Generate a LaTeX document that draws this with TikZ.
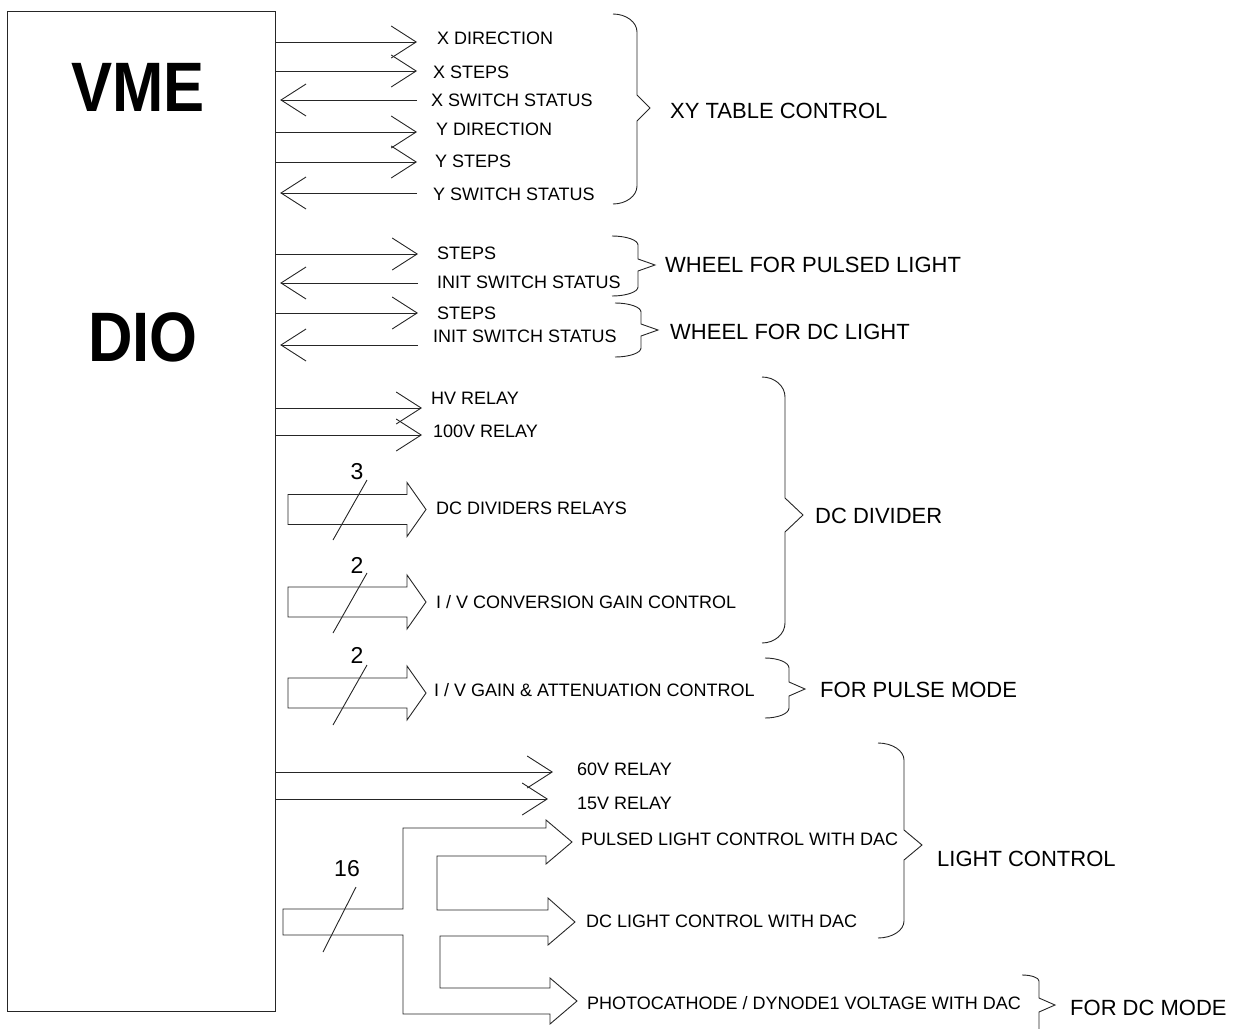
\documentclass[tikz,border=0pt]{standalone}
\usepackage{fontspec}
\setmainfont{Liberation Sans}
\usetikzlibrary{arrows.meta, positioning}

% right-hand group brace: hook x, spine x, tip x, top y, tip y, bottom y, tip half, hook height
\newcommand{\grpbrace}[8]{%
  \draw[brace] (#1,#4) .. controls ({#1+0.55*(#2-#1)},#4) and (#2,{#4+0.45*#8}) .. (#2,{#4+#8})
    -- (#2,{#5-#7}) -- (#3,#5) -- (#2,{#5+#7}) -- (#2,{#6-#8})
    .. controls (#2,{#6-0.45*#8}) and ({#1+0.55*(#2-#1)},#6) .. (#1,#6);}
% wide bus arrow, centre y
\newcommand{\busarrow}[1]{%
  \draw[bus] (288,{#1-15}) -- (407,{#1-15}) -- (407,{#1-27}) -- (426,#1)
    -- (407,{#1+27}) -- (407,{#1+15}) -- (288,{#1+15}) -- cycle;}

\begin{document}
\begin{tikzpicture}[x=1pt, y=-1pt,
  wire/.style={draw=black!85, line width=0.9pt},
  sigout/.style={wire, -{Straight Barb[length=25pt, width=32pt]}},
  sigin/.style={wire, -{Straight Barb[length=25pt, width=32pt]}, shorten >=4pt},
  brace/.style={wire},
  bus/.style={wire, line join=miter},
  sig/.style={font=\fontsize{18}{20}\selectfont, anchor=west, inner sep=0pt, text height=13pt, text depth=0pt},
  grp/.style={font=\fontsize{22}{24}\selectfont, anchor=west, inner sep=0pt, text height=16pt, text depth=0pt},
  busno/.style={font=\fontsize{23}{25}\selectfont, inner sep=0pt, text height=16pt, text depth=0pt},
  title/.style={font=\fontsize{70}{72}\selectfont\bfseries, inner sep=0pt, text height=50pt, text depth=0pt}]
  \useasboundingbox (0,0) rectangle (1234,1028);

  \node[draw=black!85, line width=1.2pt, anchor=north west, minimum width=268pt, minimum height=1000pt, inner sep=0pt] (vme) at (7,11) {};
  \node[title] (vmelbl) at (138,86) {\scalebox{0.88}[1]{VME}};
  \node[title] (diolbl) at (143,336) {\scalebox{0.88}[1]{DIO}};

  % XY table
  \coordinate (xdir) at (417,42);
  \coordinate (xstep) at (417,71);
  \coordinate (xsw) at (417,100);
  \coordinate (ydir) at (417,132);
  \coordinate (ystep) at (417,162);
  \coordinate (ysw) at (417,193);
  \draw[sigout] (vme.east |- xdir) -- (xdir);
  \draw[sigout] (vme.east |- xstep) -- (xstep);
  \draw[sigin] (xsw) -- (vme.east |- xsw);
  \draw[sigout] (vme.east |- ydir) -- (ydir);
  \draw[sigout] (vme.east |- ystep) -- (ystep);
  \draw[sigin] (ysw) -- (vme.east |- ysw);
  \node[sig] (xdirlbl) at (437,38) {X DIRECTION};
  \node[sig] (xsteplbl) at (433,72) {X STEPS};
  \node[sig] (xswlbl) at (431,100) {X SWITCH STATUS};
  \node[sig] (ydirlbl) at (436,129) {Y DIRECTION};
  \node[sig] (ysteplbl) at (435,161) {Y STEPS};
  \node[sig] (yswlbl) at (433,194) {Y SWITCH STATUS};
  \grpbrace{613}{637}{650}{14}{108}{204}{13}{18}
  \node[grp] (xygrp) at (670,110) {XY TABLE CONTROL};

  % filter wheels
  \coordinate (pstep) at (418,254);
  \coordinate (pinit) at (418,283);
  \coordinate (dstep) at (418,313);
  \coordinate (dinit) at (418,345);
  \draw[sigout] (vme.east |- pstep) -- (pstep);
  \draw[sigin] (pinit) -- (vme.east |- pinit);
  \draw[sigout] (vme.east |- dstep) -- (dstep);
  \draw[sigin] (dinit) -- (vme.east |- dinit);
  \node[sig] (psteplbl) at (437,253) {STEPS};
  \node[sig] (pinitlbl) at (437,282) {INIT SWITCH STATUS};
  \node[sig] (dsteplbl) at (437,313) {STEPS};
  \node[sig] (dinitlbl) at (433,336) {INIT SWITCH STATUS};
  \grpbrace{612}{638}{655}{236}{265}{296}{6}{9}
  \grpbrace{615}{641}{658}{303}{330}{357}{6}{9}
  \node[grp] (pwheel) at (665,264) {WHEEL FOR PULSED LIGHT};
  \node[grp] (dwheel) at (670,331) {WHEEL FOR DC LIGHT};

  % DC divider
  \coordinate (hv) at (422,408);
  \coordinate (r100) at (422,435);
  \draw[sigout] (vme.east |- hv) -- (hv);
  \draw[sigout] (vme.east |- r100) -- (r100);
  \node[sig] (hvlbl) at (431,398) {HV RELAY};
  \node[sig] (r100lbl) at (433,431) {100V RELAY};
  \busarrow{509.5}
  \draw[wire] (367,480) -- (333,540);
  \node[busno] (n3) at (357,471) {3};
  \node[sig] (divlbl) at (436,508) {DC DIVIDERS RELAYS};
  \busarrow{602}
  \draw[wire] (367,573) -- (333,633);
  \node[busno] (n2a) at (357,565) {2};
  \node[sig] (ivlbl) at (436,602) {I / V CONVERSION GAIN CONTROL};
  \grpbrace{762}{785}{803}{377}{515}{643}{17}{20}
  \node[grp] (divgrp) at (815,515) {DC DIVIDER};

  % pulse mode
  \busarrow{693}
  \draw[wire] (367,665) -- (333,725);
  \node[busno] (n2b) at (357,655) {2};
  \node[sig] (attlbl) at (434,690) {I / V GAIN \& ATTENUATION CONTROL};
  \grpbrace{765}{789}{805}{658}{689}{718}{7}{10}
  \node[grp] (pulsegrp) at (820,689) {FOR PULSE MODE};

  % light control
  \coordinate (r60) at (553,772);
  \coordinate (r15) at (548,799);
  \draw[sigout] (vme.east |- r60) -- (r60);
  \draw[sigout] (vme.east |- r15) -- (r15);
  \node[sig] (r60lbl) at (577,769) {60V RELAY};
  \node[sig] (r15lbl) at (577,803) {15V RELAY};
  \draw[bus] (283,909) -- (403,909) -- (403,828) -- (546,828) -- (546,820) -- (572,842)
    -- (546,864) -- (546,856) -- (437,856) -- (437,910) -- (548,910) -- (548,898)
    -- (575,922) -- (548,945) -- (548,936) -- (440,936) -- (440,988) -- (550,988)
    -- (550,978) -- (577,1001) -- (550,1024) -- (550,1014) -- (403,1014) -- (403,935)
    -- (283,935) -- cycle;
  \draw[wire] (356,887) -- (323,952);
  \node[busno] (n16) at (347,868) {16};
  \node[sig] (pulselbl) at (581,839) {PULSED LIGHT CONTROL WITH DAC};
  \node[sig] (dclbl) at (586,921) {DC LIGHT CONTROL WITH DAC};
  \node[sig] (pclbl) at (587,1003) {PHOTOCATHODE / DYNODE1 VOLTAGE WITH DAC};
  \grpbrace{878}{904}{922}{743}{845}{938}{15}{17}
  \node[grp] (lightgrp) at (937,858) {LIGHT CONTROL};
  \grpbrace{1022}{1039}{1055}{975}{1005}{1060}{7}{6}
  \node[grp] (dcmode) at (1070,1007) {FOR DC MODE};
\end{tikzpicture}
\end{document}
